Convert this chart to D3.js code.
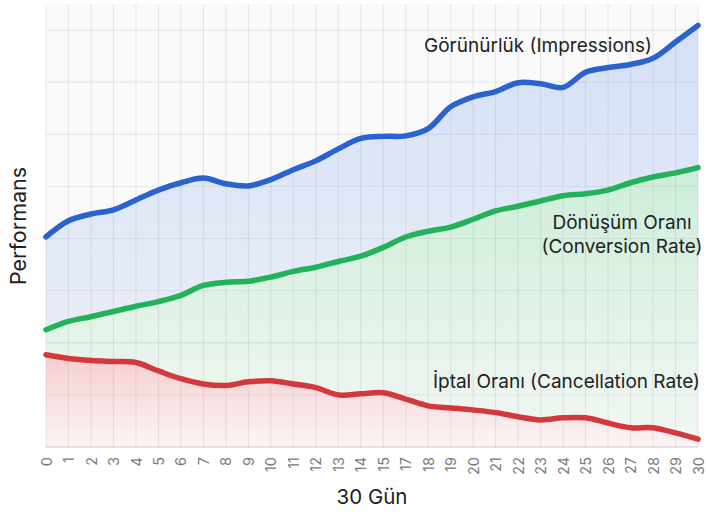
<!DOCTYPE html>
<html>
<head>
<meta charset="utf-8">
<script src="https://cdn.jsdelivr.net/npm/d3@7"></script>
<style>
  html, body { margin: 0; padding: 0; background: #ffffff; }
  svg { display: block; font-family: Inter, Roboto, "Noto Sans", sans-serif; }
</style>
</head>
<body>
<svg id="chart" width="706" height="519"></svg>
<script>
const days = ["0","1","2","3","4","5","6","7","8","9","10","11","12","13","14","15","17","18","19","20","21","22","23","24","25","26","27","28","29","30"];
const impressions = [4.03,4.34,4.47,4.55,4.74,4.93,5.07,5.16,5.05,5.01,5.13,5.32,5.49,5.72,5.92,5.96,5.97,6.11,6.53,6.72,6.82,6.99,6.97,6.90,7.19,7.28,7.34,7.46,7.77,8.09];
const conversion = [2.25,2.41,2.50,2.60,2.70,2.79,2.91,3.10,3.16,3.18,3.26,3.37,3.45,3.56,3.66,3.83,4.03,4.14,4.22,4.37,4.53,4.62,4.72,4.82,4.86,4.93,5.07,5.18,5.26,5.36];
const cancellation = [1.77,1.70,1.66,1.64,1.62,1.46,1.31,1.21,1.18,1.25,1.27,1.21,1.14,1.00,1.02,1.04,0.92,0.79,0.75,0.71,0.66,0.58,0.52,0.56,0.56,0.46,0.37,0.37,0.27,0.15];
const yTicks = [0,1,2,3,4,5,6,7,8];
const seriesNames = ["Görünürlük (Impressions)", ["Dönüşüm Oranı", "(Conversion Rate)"], "İptal Oranı (Cancellation Rate)"];
const xTitle = "30 Gün";
const yTitle = "Performans";

const W = 706, H = 519;
const m = {top: 4, right: 8, bottom: 72, left: 46};
const svg = d3.select("#chart");

const x = d3.scalePoint().domain(days).range([m.left, W - m.right]);
const y = d3.scaleLinear().domain([0, 8.5]).range([H - m.bottom, m.top]);

const defs = svg.append("defs");
function grad(id, yTop, c1, c2) {
  const g = defs.append("linearGradient").attr("id", id).attr("gradientUnits", "userSpaceOnUse")
    .attr("x1", 0).attr("y1", yTop).attr("x2", 0).attr("y2", y(0));
  g.append("stop").attr("offset", "0%").attr("stop-color", c1);
  g.append("stop").attr("offset", "100%").attr("stop-color", c2);
}
grad("gBlue", y(8.2), "#d4e0f7", "#f0f2f6");
grad("gGreen", y(5.4), "#cdeed8", "#f3f7f4");
grad("gRed", y(1.8), "#f5cdce", "#fcf5f5");

// plot background
svg.append("rect").attr("x", m.left).attr("y", m.top)
  .attr("width", W - m.right - m.left).attr("height", H - m.bottom - m.top)
  .attr("fill", "#fafafb");

const curve = d3.curveCatmullRom.alpha(0.5);
const series = [
  {vals: impressions, color: "#2a62cf", grad: "gBlue"},
  {vals: conversion, color: "#22b35a", grad: "gGreen"},
  {vals: cancellation, color: "#d5383c", grad: "gRed"}
];

series.forEach(s => {
  const area = d3.area().x((d, i) => x(days[i])).y0(y(0)).y1(d => y(d)).curve(curve);
  svg.append("path").datum(s.vals).attr("d", area).attr("fill", `url(#${s.grad})`);
});

// grid (semi-transparent, over fills)
const grid = svg.append("g");
grid.selectAll("line.v").data(days).join("line").attr("class", "v")
  .attr("x1", d => x(d)).attr("x2", d => x(d))
  .attr("y1", m.top).attr("y2", H - m.bottom)
  .attr("stroke", "#8a8a99").attr("stroke-opacity", 0.18).attr("stroke-width", 1);
grid.selectAll("line.h").data(yTicks).join("line").attr("class", "h")
  .attr("x1", m.left).attr("x2", W - m.right)
  .attr("y1", d => y(d)).attr("y2", d => y(d))
  .attr("stroke", "#8a8a99").attr("stroke-opacity", d => d === 0 ? 0.3 : 0.18).attr("stroke-width", d => d === 0 ? 1.5 : 1);

series.forEach(s => {
  const line = d3.line().x((d, i) => x(days[i])).y(d => y(d)).curve(curve);
  svg.append("path").datum(s.vals).attr("d", line).attr("fill", "none")
    .attr("stroke", s.color).attr("stroke-width", 5.5).attr("stroke-linecap", "round").attr("stroke-linejoin", "round");
});

// x axis tick labels
const xAxis = d3.axisBottom(x).tickSize(0).tickPadding(0);
const gx = svg.append("g").attr("transform", `translate(0,${H - m.bottom})`).call(xAxis);
gx.select(".domain").remove();
gx.selectAll("text")
  .attr("transform", "rotate(-90)")
  .attr("x", -10).attr("y", 0).attr("dy", "0.35em")
  .style("text-anchor", "end")
  .attr("font-size", 14.5).attr("fill", "#7a7a7a")
  .attr("font-family", "Inter, Roboto, sans-serif");

// labels
const lab = svg.append("g").attr("fill", "#222").attr("font-size", 19);
lab.append("text").attr("x", 538).attr("y", 52).attr("text-anchor", "middle").text(seriesNames[0]);
lab.append("text").attr("x", 622).attr("y", 229).attr("text-anchor", "middle").text(seriesNames[1][0]);
lab.append("text").attr("x", 622).attr("y", 253).attr("text-anchor", "middle").text(seriesNames[1][1]);
lab.append("text").attr("x", 700).attr("y", 388).attr("text-anchor", "end").text(seriesNames[2]);

svg.append("text").attr("x", 372).attr("y", 504).attr("text-anchor", "middle")
  .attr("font-size", 20.5).attr("fill", "#222").text(xTitle);
svg.append("text").attr("transform", "translate(26,226) rotate(-90)").attr("text-anchor", "middle")
  .attr("font-size", 21.5).attr("fill", "#222").text(yTitle);
</script>
</body>
</html>
